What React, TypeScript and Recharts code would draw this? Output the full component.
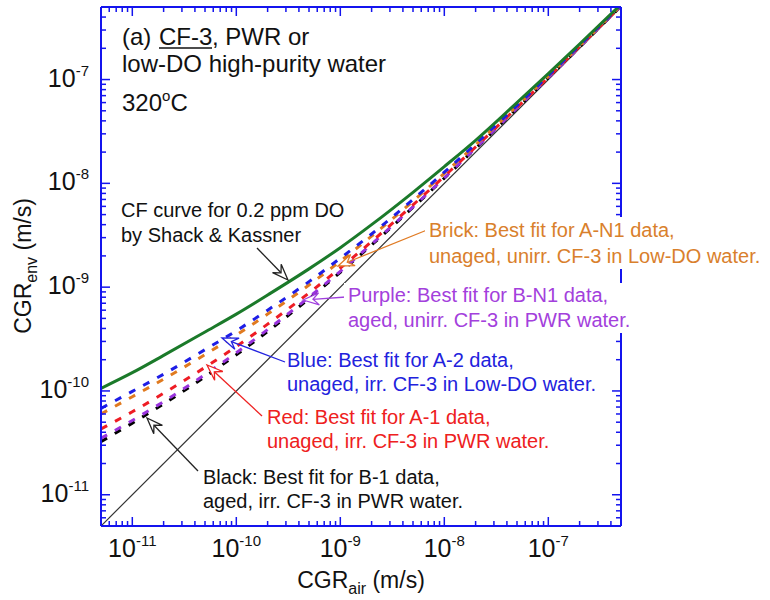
import React from 'react';
import { LineChart, Line, XAxis, YAxis } from 'recharts';

// CGR_air sample points (m/s)
const cgrAir = [5e-12, 1e-11, 2e-11, 5e-11, 1e-10, 2e-10, 5e-10, 1e-9, 2e-9, 5e-9, 1e-8, 2e-8, 5e-8, 1e-7, 2e-7, 5e-7];

// CGR_env (m/s)
const cfShackKassner = [1.06e-10, 1.5e-10, 2.2e-10, 3.7e-10, 5.5e-10, 8.4e-10, 1.5e-9, 2.4e-9, 4.0e-9, 8.2e-9, 1.45e-8, 2.6e-8, 6.0e-8, 1.14e-7, 2.2e-7, 5.3e-7];
const fitBlueA2 = [6.8e-11, 9.9e-11, 1.45e-10, 2.5e-10, 3.8e-10, 6.0e-10, 1.13e-9, 1.9e-9, 3.25e-9, 7.0e-9, 1.28e-8, 2.4e-8, 5.6e-8, 1.09e-7, 2.13e-7, 5.2e-7];
const fitBrickAN1 = [6.0e-11, 8.8e-11, 1.3e-10, 2.24e-10, 3.46e-10, 5.5e-10, 1.05e-9, 1.78e-9, 3.1e-9, 6.74e-9, 1.25e-8, 2.35e-8, 5.55e-8, 1.08e-7, 2.11e-7, 5.17e-7];
const fitRedA1 = [4.3e-11, 6.3e-11, 9.5e-11, 1.69e-10, 2.68e-10, 4.4e-10, 8.8e-10, 1.53e-9, 2.75e-9, 6.2e-9, 1.17e-8, 2.24e-8, 5.38e-8, 1.05e-7, 2.08e-7, 5.12e-7];
const fitPurpleBN1 = [3.5e-11, 5.2e-11, 7.9e-11, 1.44e-10, 2.33e-10, 3.9e-10, 8.0e-10, 1.42e-9, 2.6e-9, 5.94e-9, 1.13e-8, 2.19e-8, 5.3e-8, 1.04e-7, 2.06e-7, 5.09e-7];
const fitBlackB1 = [3.25e-11, 4.9e-11, 7.5e-11, 1.37e-10, 2.23e-10, 3.74e-10, 7.75e-10, 1.39e-9, 2.55e-9, 5.87e-9, 1.12e-8, 2.17e-8, 5.28e-8, 1.04e-7, 2.06e-7, 5.09e-7];

// 1:1 reference line
const oneToOneAir = [5e-12, 5e-7];
const oneToOneEnv = [5e-12, 5e-7];

// log axis ticks
const axisMin = 5e-12;
const axisMax = 5e-7;
const tickMantissas = [1, 2, 3, 4, 5, 6, 7, 8, 9];
const tickDecades = [-12, -11, -10, -9, -8, -7];

const logTicks = tickDecades
  .flatMap((d) => tickMantissas.map((m) => m * Math.pow(10, d)))
  .filter((v) => v > axisMin * 1.01 && v < axisMax * 0.99);

const table = cgrAir.map((air, i) => ({
  air,
  green: cfShackKassner[i],
  blue: fitBlueA2[i],
  brick: fitBrickAN1[i],
  red: fitRedA1[i],
  purple: fitPurpleBN1[i],
  black: fitBlackB1[i],
}));
const oneToOne = oneToOneAir.map((air, i) => ({ air, env: oneToOneEnv[i] }));

const FONT = "'Liberation Sans', Arial, Helvetica, sans-serif";
const frameBlue = '#1414ee';
const dash = '7 9';

const isMajor = (v: number) => Math.abs(Math.log10(v) - Math.round(Math.log10(v))) < 1e-6;

const TickLabel = ({ x, y, v, anchor }: any) => (
  <text x={x} y={y} textAnchor={anchor} fontFamily={FONT} fill="#111">
    <tspan fontSize={25}>10</tspan>
    <tspan fontSize={15} dy={-11}>{'-' + Math.abs(Math.round(Math.log10(v)))}</tspan>
  </text>
);

const BottomTick = (props: any) => {
  const { x, y, payload } = props;
  const major = isMajor(payload.value);
  return (
    <g>
      <line x1={x} x2={x} y1={y} y2={y - (major ? 9 : 5)} stroke={frameBlue} strokeWidth={1.5} />
      {major && <TickLabel x={x} y={y + 31} v={payload.value} anchor="middle" />}
    </g>
  );
};

const TopTick = (props: any) => {
  const { x, y, payload } = props;
  const major = isMajor(payload.value);
  return <line x1={x} x2={x} y1={y} y2={y + (major ? 9 : 5)} stroke={frameBlue} strokeWidth={1.5} />;
};

const LeftTick = (props: any) => {
  const { x, y, payload } = props;
  const major = isMajor(payload.value);
  return (
    <g>
      <line x1={x} x2={x + (major ? 9 : 5)} y1={y} y2={y} stroke={frameBlue} strokeWidth={1.5} />
      {major && <TickLabel x={x - 12} y={y + 7} v={payload.value} anchor="end" />}
    </g>
  );
};

const RightTick = (props: any) => {
  const { x, y, payload } = props;
  const major = isMajor(payload.value);
  return <line x1={x} x2={x - (major ? 9 : 5)} y1={y} y2={y} stroke={frameBlue} strokeWidth={1.5} />;
};

const Arrow = ({ tail, tip, color }: any) => {
  const dx = tail[0] - tip[0];
  const dy = tail[1] - tip[1];
  const len = Math.sqrt(dx * dx + dy * dy);
  const ux = dx / len;
  const uy = dy / len;
  const px = -uy;
  const py = ux;
  const L = 16;
  const W = 6;
  const N = 10;
  const pts = [
    [tip[0], tip[1]],
    [tip[0] + ux * L + px * W, tip[1] + uy * L + py * W],
    [tip[0] + ux * N, tip[1] + uy * N],
    [tip[0] + ux * L - px * W, tip[1] + uy * L - py * W],
  ]
    .map((p) => p.join(','))
    .join(' ');
  return (
    <g>
      <line x1={tail[0]} y1={tail[1]} x2={tip[0] + ux * N} y2={tip[1] + uy * N} stroke={color} strokeWidth={1.3} />
      <polygon points={pts} fill="#fff" stroke={color} strokeWidth={1.3} />
    </g>
  );
};

const Note = ({ x, ys, lines, color }: any) => (
  <g>
    {lines.map((t: string, i: number) => (
      <text key={i} x={x} y={ys[i]} fontFamily={FONT} fontSize={20} fill={color}>
        {t}
      </text>
    ))}
  </g>
);

const Annotations = () => (
  <svg width={770} height={600} style={{ position: 'absolute', left: 0, top: 0 }}>
    <Arrow tail={[257, 248]} tip={[288, 280]} color="#222" />
    <Arrow tail={[427, 230]} tip={[338, 266]} color="#e07b24" />
    <Arrow tail={[346, 297]} tip={[303, 300]} color="#a040dd" />
    <Arrow tail={[285, 362]} tip={[222, 338]} color="#2323e0" />
    <Arrow tail={[262, 416]} tip={[207, 365]} color="#ee2222" />
    <Arrow tail={[198, 471]} tip={[147, 418]} color="#222" />

    <rect x={425} y={217} width={345} height={52} fill="#fff" />
    <rect x={344} y={283} width={300} height={50} fill="#fff" />

    {/* panel title */}
    <g fontFamily={FONT} fontSize={24} fill="#111">
      <text x={122} y={45}>(a)</text>
      <text x={159} y={45}>CF-3</text>
      <line x1={159} x2={212} y1={48} y2={48} stroke="#111" strokeWidth={1.3} />
      <text x={212} y={45}>, PWR or</text>
      <text x={122} y={72}>low-DO high-purity water</text>
      <text x={122} y={111}>
        320
        <tspan fontSize={15} dy={-10}>o</tspan>
        <tspan dy={10}>C</tspan>
      </text>
    </g>

    <Note x={121} ys={[217, 242]} lines={['CF curve for 0.2 ppm DO', 'by Shack & Kassner']} color="#111" />
    <Note
      x={429}
      ys={[237, 263]}
      lines={['Brick: Best fit for A-N1 data,', 'unaged, unirr. CF-3 in Low-DO water.']}
      color="#d9802c"
    />
    <Note
      x={348}
      ys={[302, 327]}
      lines={['Purple: Best fit for B-N1 data,', 'aged, unirr. CF-3 in PWR water.']}
      color="#a340dc"
    />
    <Note
      x={287}
      ys={[367, 391]}
      lines={['Blue: Best fit for A-2 data,', 'unaged, irr. CF-3 in Low-DO water.']}
      color="#2222dd"
    />
    <Note
      x={267}
      ys={[424, 448]}
      lines={['Red: Best fit for A-1 data,', 'unaged, irr. CF-3 in PWR water.']}
      color="#ee2020"
    />
    <Note
      x={203}
      ys={[484, 508]}
      lines={['Black: Best fit for B-1 data,', 'aged, irr. CF-3 in PWR water.']}
      color="#111"
    />

    <text x={361} y={588} textAnchor="middle" fontFamily={FONT} fill="#111">
      <tspan fontSize={23}>CGR</tspan>
      <tspan fontSize={16} dy={6}>air</tspan>
      <tspan fontSize={23} dy={-6}> (m/s)</tspan>
    </text>
    <text x={31} y={266} transform="rotate(-90 31 266)" textAnchor="middle" fontFamily={FONT} fill="#111">
      <tspan fontSize={23}>CGR</tspan>
      <tspan fontSize={16} dy={6}>env</tspan>
      <tspan fontSize={23} dy={-6}> (m/s)</tspan>
    </text>
  </svg>
);

export default function App() {
  const axisCommon = {
    type: 'number' as const,
    scale: 'log' as const,
    domain: [axisMin, axisMax],
    allowDataOverflow: true,
    ticks: logTicks,
    interval: 0 as const,
    tickSize: 0,
    tickMargin: 0,
    tickLine: false,
    axisLine: { stroke: frameBlue, strokeWidth: 2 },
  };
  return (
    <div style={{ position: 'absolute', left: 0, top: 0, width: 770, height: 600, background: '#fff' }}>
      <LineChart width={770} height={600} data={table} margin={{ top: 0, right: 0, bottom: 0, left: 0 }}>
        <XAxis {...axisCommon} dataKey="air" height={74} tick={(p: any) => <BottomTick {...p} />} />
        <XAxis {...axisCommon} xAxisId="top" orientation="top" dataKey="air" height={7} tick={(p: any) => <TopTick {...p} />} />
        <YAxis {...axisCommon} width={101} tick={(p: any) => <LeftTick {...p} />} />
        <YAxis {...axisCommon} yAxisId="right" orientation="right" width={149} tick={(p: any) => <RightTick {...p} />} />

        <Line data={oneToOne} dataKey="env" type="linear" stroke="#333" strokeWidth={1.2} dot={false} isAnimationActive={false} />
        <Line data={oneToOne} dataKey="env" xAxisId="top" yAxisId="right" stroke="none" dot={false} isAnimationActive={false} />

        <Line dataKey="black" type="monotone" stroke="#000" strokeWidth={3} strokeDasharray={dash} dot={false} isAnimationActive={false} />
        <Line dataKey="purple" type="monotone" stroke="#9933dd" strokeWidth={3} strokeDasharray={dash} dot={false} isAnimationActive={false} />
        <Line dataKey="red" type="monotone" stroke="#ee1c24" strokeWidth={3} strokeDasharray={dash} dot={false} isAnimationActive={false} />
        <Line dataKey="brick" type="monotone" stroke="#e07a1f" strokeWidth={3} strokeDasharray={dash} dot={false} isAnimationActive={false} />
        <Line dataKey="blue" type="monotone" stroke="#1e1ee6" strokeWidth={3} strokeDasharray={dash} dot={false} isAnimationActive={false} />
        <Line dataKey="green" type="monotone" stroke="#1b7a2a" strokeWidth={3} dot={false} isAnimationActive={false} />
      </LineChart>
      <Annotations />
    </div>
  );
}
